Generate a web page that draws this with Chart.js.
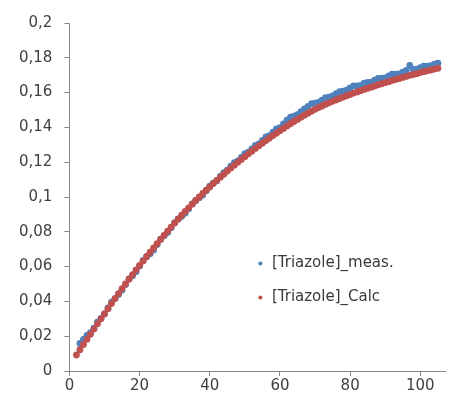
<!DOCTYPE html>
<html>
<head>
<meta charset="utf-8">
<script src="https://cdn.jsdelivr.net/npm/chart.js@4.4.1/dist/chart.umd.min.js"></script>
<style>
  html, body { margin: 0; padding: 0; background: #ffffff; }
  #wrap { width: 449px; height: 402px; position: relative; }
</style>
</head>
<body>
<div id="wrap"><canvas id="chart"></canvas></div>
<script>
// Sampling times (min)
const timeCalc = [2,3,4,5,6,7,8,9,10,11,12,13,14,15,16,17,18,19,20,21,22,23,24,25,26,27,28,29,30,31,32,33,34,35,36,37,38,39,40,41,42,43,44,45,46,47,48,49,50,51,52,53,54,55,56,57,58,59,60,61,62,63,64,65,66,67,68,69,70,71,72,73,74,75,76,77,78,79,80,81,82,83,84,85,86,87,88,89,90,91,92,93,94,95,96,97,98,99,100,101,102,103,104,105];
const timeMeas = [3,4,5,6,7,8,9,10,11,12,13,14,15,16,17,18,19,20,21,22,23,24,25,26,27,28,29,30,31,32,33,34,35,36,37,38,39,40,41,42,43,44,45,46,47,48,49,50,51,52,53,54,55,56,57,58,59,60,61,62,63,64,65,66,67,68,69,70,71,72,73,74,75,76,77,78,79,80,81,82,83,84,85,86,87,88,89,90,91,92,93,94,95,96,97,98,99,100,101,102,103,104,105];

// Measured triazole concentration
const triazoleMeas = [0.0158,0.0182,0.0204,0.0221,0.0246,0.0281,0.0303,0.0327,0.0362,0.0396,0.0416,0.0440,0.0465,0.0497,0.0530,0.0548,0.0571,0.0603,0.0635,0.0656,0.0674,0.0696,0.0727,0.0758,0.0777,0.0796,0.0823,0.0853,0.0874,0.0889,0.0907,0.0933,0.0961,0.0980,0.0996,0.1011,0.1036,0.1062,0.1079,0.1093,0.1118,0.1140,0.1155,0.1177,0.1197,0.1207,0.1228,0.1249,0.1258,0.1276,0.1297,0.1305,0.1325,0.1346,0.1353,0.1372,0.1391,0.1399,0.1420,0.1442,0.1459,0.1464,0.1473,0.1491,0.1506,0.1521,0.1537,0.1539,0.1544,0.1557,0.1571,0.1574,0.1581,0.1594,0.1605,0.1608,0.1614,0.1627,0.1639,0.1639,0.1642,0.1654,0.1658,0.1660,0.1672,0.1682,0.1683,0.1685,0.1696,0.1706,0.1706,0.1708,0.1718,0.1727,0.1756,0.1734,0.1735,0.1744,0.1752,0.1752,0.1755,0.1764,0.1769];

// Calculated (model) triazole concentration
const triazoleCalc = [0.0092,0.0122,0.0152,0.0182,0.0211,0.0241,0.0271,0.0300,0.0329,0.0358,0.0388,0.0416,0.0445,0.0473,0.0500,0.0528,0.0554,0.0581,0.0607,0.0632,0.0658,0.0683,0.0708,0.0732,0.0756,0.0780,0.0804,0.0827,0.0850,0.0873,0.0895,0.0917,0.0938,0.0959,0.0980,0.1000,0.1020,0.1039,0.1058,0.1077,0.1095,0.1113,0.1131,0.1149,0.1166,0.1183,0.1199,0.1216,0.1232,0.1248,0.1263,0.1279,0.1294,0.1309,0.1324,0.1338,0.1353,0.1367,0.1381,0.1394,0.1408,0.1421,0.1434,0.1446,0.1458,0.1470,0.1482,0.1493,0.1504,0.1514,0.1523,0.1533,0.1541,0.1550,0.1558,0.1566,0.1574,0.1582,0.1589,0.1597,0.1604,0.1611,0.1618,0.1625,0.1631,0.1638,0.1645,0.1651,0.1657,0.1663,0.1670,0.1676,0.1681,0.1687,0.1693,0.1699,0.1704,0.1709,0.1715,0.1720,0.1725,0.1730,0.1735,0.1740];

// Axis ticks
const xTicks = [0, 20, 40, 60, 80, 100];
const yTicks = [0, 0.02, 0.04, 0.06, 0.08, 0.1, 0.12, 0.14, 0.16, 0.18, 0.2];

const seriesNames = ['[Triazole]_meas.', '[Triazole]_Calc'];

const toPoints = (xs, ys) => xs.map((x, i) => ({ x: x, y: ys[i] }));

Chart.defaults.font.family = "'DejaVu Sans', sans-serif";
Chart.defaults.font.size = 15;
Chart.defaults.color = '#404040';

// Places the legend inside the plot area, lower right
const legendInPlot = {
  id: 'legendInPlot',
  afterLayout(chart) {
    const lg = chart.legend;
    const area = chart.chartArea;
    if (!lg) return;
    const w = lg.width, h = lg.height;
    lg.left = area.left + 168;
    lg.top = area.top + 214;
    lg.right = lg.left + w;
    lg.bottom = lg.top + Math.max(h, 120);
    lg.height = lg.bottom - lg.top;
  }
};

const axisColor = '#868686';

new Chart(document.getElementById('chart'), {
  type: 'scatter',
  data: {
    datasets: [
      {
        label: seriesNames[0],
        data: toPoints(timeMeas, triazoleMeas),
        backgroundColor: '#4F81BD',
        borderColor: '#4F81BD',
        pointRadius: 3.4,
        pointBorderWidth: 0,
        pointHoverRadius: 3.4,
        order: 1
      },
      {
        label: seriesNames[1],
        data: toPoints(timeCalc, triazoleCalc),
        backgroundColor: '#C0504D',
        borderColor: '#C0504D',
        pointRadius: 3.4,
        pointBorderWidth: 0,
        pointHoverRadius: 3.4,
        order: 0
      }
    ]
  },
  options: {
    responsive: true,
    maintainAspectRatio: false,
    animation: false,
    devicePixelRatio: 1,
    layout: { padding: { left: 7, top: 23, right: 0, bottom: 6 } },
    plugins: {
      tooltip: { enabled: false },
      legend: {
        position: 'chartArea',
        align: 'start',
        labels: {
          usePointStyle: true,
          pointStyle: 'circle',
          boxWidth: 8,
          boxHeight: 3,
          padding: 19,
          color: '#3a3a3a',
          font: { size: 15 },
          sort: (a, b) => a.datasetIndex - b.datasetIndex
        }
      }
    },
    scales: {
      x: {
        type: 'linear',
        min: 0,
        max: 107.2,
        afterBuildTicks: (scale) => { scale.ticks = xTicks.map(v => ({ value: v })); },
        ticks: { padding: 1, color: '#404040' },
        grid: { drawOnChartArea: false, drawTicks: true, tickLength: 5, color: axisColor },
        border: { color: axisColor, width: 1 }
      },
      y: {
        type: 'linear',
        min: 0,
        max: 0.2,
        afterBuildTicks: (scale) => { scale.ticks = yTicks.map(v => ({ value: v })); },
        ticks: {
          padding: 12,
          color: '#404040',
          callback: (v) => String(Math.round(v * 100) / 100).replace('.', ',')
        },
        grid: { drawOnChartArea: false, drawTicks: true, tickLength: 5, color: axisColor },
        border: { color: axisColor, width: 1 }
      }
    }
  },
  plugins: [legendInPlot]
});
</script>
</body>
</html>
